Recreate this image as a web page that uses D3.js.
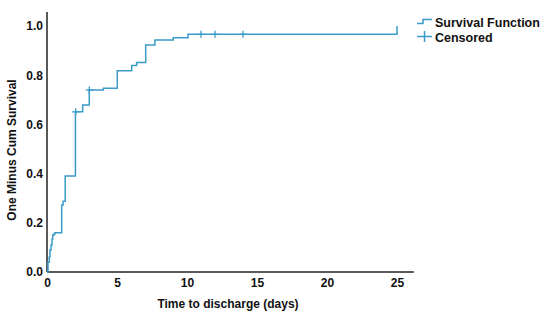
<!DOCTYPE html>
<html>
<head>
<meta charset="utf-8">
<script src="https://cdn.jsdelivr.net/npm/d3@7"></script>
<style>
  body { margin: 0; background: #fff; }
  text { font-family: "Liberation Sans", Arial, sans-serif; font-weight: bold; fill: #111; }
</style>
</head>
<body>
<div id="chart"></div>
<script>
// step curve: time (days) and one-minus-cum-survival after the step
const stepTimes = [0, 0.07, 0.16, 0.21, 0.29, 0.36, 0.41, 0.5, 0.57, 1.05, 1.15, 1.3, 2.03, 2.55, 3.02, 4.02, 5.02, 6.05, 6.4, 7.05, 7.71, 9.02, 10.07, 25];
const stepValues = [0, 0.04, 0.061, 0.089, 0.11, 0.134, 0.15, 0.154, 0.16, 0.272, 0.288, 0.39, 0.651, 0.679, 0.74, 0.747, 0.818, 0.839, 0.852, 0.923, 0.943, 0.952, 0.966, 1.0];
// censored cases
const censorTimes = [2.05, 3.02, 11.0, 12.0, 14.0];
const censorValues = [0.651, 0.74, 0.966, 0.966, 0.966];

const xTicks = [0, 5, 10, 15, 20, 25];
const yTicks = [0, 0.2, 0.4, 0.6, 0.8, 1.0];

const width = 558, height = 316;
const lineColor = "#3a9bc8";

const svg = d3.select("#chart").append("svg")
  .attr("width", width)
  .attr("height", height);

const x = d3.scaleLinear().domain([0, 25]).range([47, 397]);
const y = d3.scaleLinear().domain([0, 1]).range([272, 26]);

// axes (lines only, no tick marks)
const xAxis = svg.append("g")
  .attr("transform", `translate(0,${y(0)})`)
  .call(d3.axisBottom(x).tickValues(xTicks).tickSize(0).tickPadding(6).tickFormat(d3.format("d")));
xAxis.select(".domain").remove();
xAxis.selectAll("text").attr("font-size", 12).style("font-family", null);

const yAxis = svg.append("g")
  .attr("transform", `translate(${x(0)},0)`)
  .call(d3.axisLeft(y).tickValues(yTicks).tickSize(0).tickPadding(4).tickFormat(d3.format(".1f")));
yAxis.select(".domain").remove();
yAxis.selectAll("text").attr("font-size", 12).style("font-family", null);

svg.append("line")
  .attr("x1", x(0)).attr("x2", x(26.2))
  .attr("y1", y(0)).attr("y2", y(0))
  .attr("stroke", "#222").attr("stroke-width", 1.5);
svg.append("line")
  .attr("x1", x(0)).attr("x2", x(0))
  .attr("y1", y(0)).attr("y2", y(1.057))
  .attr("stroke", "#222").attr("stroke-width", 1.5);

// survival step line
const pts = stepTimes.map((t, i) => [t, stepValues[i]]);
const line = d3.line()
  .x(d => x(d[0]))
  .y(d => y(d[1]))
  .curve(d3.curveStepAfter);

svg.append("path")
  .datum(pts)
  .attr("d", line)
  .attr("fill", "none")
  .attr("stroke", lineColor)
  .attr("stroke-width", 1.5);

// censor marks
const cens = svg.append("g")
  .attr("stroke", lineColor)
  .attr("stroke-width", 1.3);
censorTimes.forEach((t, i) => {
  const cx = x(t), cy = y(censorValues[i]);
  cens.append("line").attr("x1", cx).attr("x2", cx).attr("y1", cy - 3.5).attr("y2", cy + 3.5);
  cens.append("line").attr("x1", cx - 3.5).attr("x2", cx + 3.5).attr("y1", cy).attr("y2", cy);
});

// axis titles
svg.append("text")
  .attr("x", 228).attr("y", 308)
  .attr("text-anchor", "middle")
  .attr("font-size", 12)
  .text("Time to discharge (days)");

svg.append("text")
  .attr("transform", "translate(16,150) rotate(-90)")
  .attr("text-anchor", "middle")
  .attr("font-size", 12)
  .text("One Minus Cum Survival");

// legend
const legend = svg.append("g");
legend.append("path")
  .attr("d", "M417,23.5H423V19.5H432")
  .attr("fill", "none")
  .attr("stroke", lineColor)
  .attr("stroke-width", 1.5);
legend.append("line")
  .attr("x1", 417).attr("x2", 432).attr("y1", 36.5).attr("y2", 36.5)
  .attr("stroke", lineColor).attr("stroke-width", 1.5);
legend.append("line")
  .attr("x1", 424.5).attr("x2", 424.5).attr("y1", 31).attr("y2", 42)
  .attr("stroke", lineColor).attr("stroke-width", 1.5);
legend.append("text")
  .attr("x", 435).attr("y", 26.5)
  .attr("font-size", 12.5)
  .text("Survival Function");
legend.append("text")
  .attr("x", 435).attr("y", 41.5)
  .attr("font-size", 12.5)
  .text("Censored");
</script>
</body>
</html>
